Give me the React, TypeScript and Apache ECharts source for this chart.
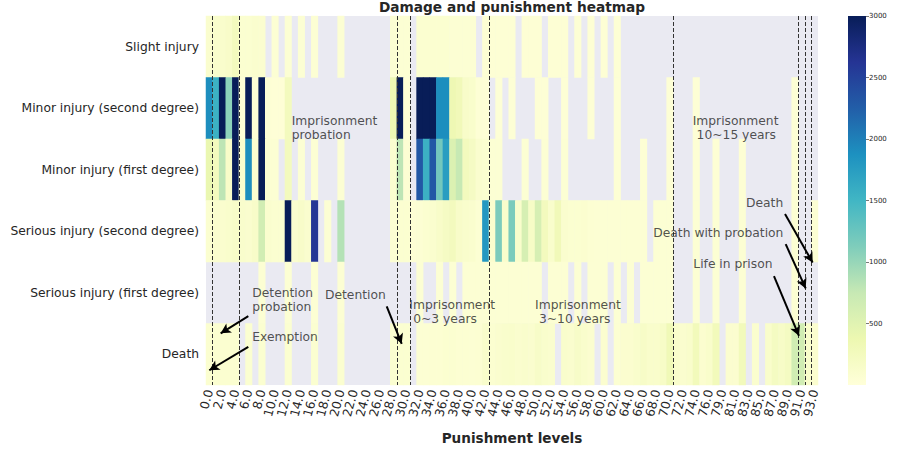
import React, { useEffect, useRef } from "react";
import * as echarts from "echarts";

const _ = null;

// Punishment levels (x categories)
const levels = [
  0, 1, 2, 3, 4, 5, 6, 7, 8, 9, 10, 11, 12, 13, 14, 15, 16, 17, 18, 19,
  20, 21, 22, 23, 24, 25, 26, 27, 28, 29, 30, 31, 32, 33, 34, 35, 36, 37, 38, 39,
  40, 41, 42, 43, 44, 45, 46, 47, 48, 49, 50, 51, 52, 53, 54, 55, 56, 57, 58, 59,
  60, 61, 62, 63, 64, 65, 66, 67, 68, 69, 70, 71, 72, 73, 74, 75, 76, 77, 79, 80,
  81, 82, 83, 84, 85, 86, 87, 88, 89, 90, 91, 92, 93,
];

// Damage levels (y categories, top to bottom)
const damageLevels = [
  "Slight injury",
  "Minor injury (second degree)",
  "Minor injury (first degree)",
  "Serious injury (second degree)",
  "Serious injury (first degree)",
  "Death",
];

const slightInjury = [
  100, 120, 120, 150, 250, 80, 80, 100, 90, _,
  60, _, 60, _, 60, _, 60, _, _, _,
  60, _, _, _, _, _, _, _, 60, 60,
  60, _, 80, 80, 80, 80, 80, 60, 60, 60,
  60, _, 50, 50, 50, 50, 50, _, 50, 50,
  50, _, 50, 50, 50, _, 50, _, 50, _,
  50, _, 50, _, _, _, _, _, _, _,
  _, _, _, _, _, _, _, _, _, _,
  _, _, _, _, _, _, _, _, _, _,
  _, _, _,
];

const minorSecond = [
  1900, 1550, 3000, 1050, 3000, 40, 3000, 40, 3000, 40,
  30, 30, 250, _, _, _, _, _, _, _,
  _, _, _, _, _, _, _, _, 350, 3000,
  50, _, 3000, 3000, 3000, 1900, 1900, 350, 300, 150,
  120, 40, 30, _, 40, _, 40, _, _, _,
  40, 40, _, _, 40, _, _, _, 40, _,
  _, _, 40, _, _, _, _, _, _, _,
  40, _, _, _, 40, _, _, _, _, _,
  _, _, _, _, _, _, _, _, _, 40,
  _, _, _,
];

const minorFirst = [
  400, 250, 800, 150, 3000, 100, 1900, 80, 3000, 60,
  60, _, 250, _, 60, _, 60, _, _, _,
  60, _, _, _, _, _, _, _, 80, 800,
  60, _, 2300, 1550, 2300, 1200, 1750, 550, 750, 250,
  200, 100, 80, 60, 60, _, _, _, 60, _,
  _, 60, _, _, 60, _, _, _, _, _,
  _, _, 50, _, _, _, 50, _, _, _,
  50, _, _, _, 50, _, _, 50, _, _,
  _, 50, _, _, _, _, _, _, _, 50,
  _, _, _,
];

const seriousSecond = [
  80, 100, 100, 120, 150, 120, 100, 150, 650, 100,
  80, 80, 3000, 100, 150, 100, 2600, _, 60, _,
  850, _, _, _, _, _, _, _, 60, 80,
  80, 50, 60, 80, 100, 150, 200, 250, 150, 120,
  100, 60, 1800, 100, 1150, 120, 1150, 120, 600, 180,
  600, 250, 120, 300, 100, 80, 80, 90, 70, 60,
  60, 60, 60, 60, 60, 60, 60, _, 60, 60,
  60, _, _, _, 60, _, _, 60, _, _,
  _, 60, _, _, _, _, _, _, _, 60,
  _, _, 60,
];

const seriousFirst = [
  _, _, _, _, _, _, _, _, 60, _,
  _, _, 60, _, _, _, 60, _, _, _,
  60, _, _, _, _, _, _, _, _, _,
  _, _, 60, _, _, 60, _, 60, _, 60,
  60, 60, 60, 60, 60, 60, 60, 60, 60, 60,
  60, _, 60, 60, 60, _, 60, _, 60, 60,
  60, _, 60, _, 60, _, 60, 60, 60, 60,
  60, _, _, _, 60, _, _, 60, _, _,
  _, 60, _, _, _, _, _, _, _, 60,
  _, _, _,
];

const death = [
  80, 80, 80, 80, 80, _, 80, _, 80, _,
  _, _, 80, _, _, _, 80, _, _, _,
  80, _, _, _, _, _, _, _, 80, 80,
  80, _, 60, 60, 70, 70, 80, 80, 70, 70,
  60, 70, 130, 80, 100, 120, 130, 100, 120, 100,
  160, 120, 100, _, 120, 100, 160, 120, 90, _,
  90, _, 70, 90, 90, 120, 170, 130, 130, 170,
  320, 130, 100, 130, 280, 90, 130, 280, _, 90,
  90, 280, _, 100, _, 130, 220, 170, 220, 650,
  650, 130, 90,
];

const rows = [slightInjury, minorSecond, minorFirst, seriousSecond, seriousFirst, death];

// Category boundaries (in column units) where the dashed separators sit
const thresholds = [1, 5, 29, 31, 43, 71, 90, 91, 92];

// Annotation texts, in (column, row) units
const annotations = [
  { text: "Imprisonment\nprobation", x: 13.02, y: 1.82 },
  { text: "Detention\nprobation", x: 7.04, y: 4.62 },
  { text: "Exemption", x: 7.04, y: 5.22 },
  { text: "Detention", x: 18.08, y: 4.54 },
  { text: "Imprisonment\n\u00a00~3 years", x: 30.89, y: 4.81 },
  { text: "Imprisonment\n\u00a03~10 years", x: 50.0, y: 4.81 },
  { text: "Imprisonment\n\u00a010~15 years", x: 73.96, y: 1.82 },
  { text: "Death", x: 82.06, y: 3.04 },
  { text: "Death with probation", x: 67.97, y: 3.53 },
  { text: "Life in prison", x: 74.05, y: 4.03 },
];

const arrows = [
  { from: [6.43, 4.88], to: [2.23, 5.16] },
  { from: [6.43, 5.38], to: [0.5, 5.76] },
  { from: [27.46, 4.72], to: [29.74, 5.33] },
  { from: [87.99, 3.22], to: [92.19, 4.01] },
  { from: [88.09, 3.71], to: [91.13, 4.43] },
  { from: [86.31, 4.23], to: [90.11, 5.2] },
];

const colorbarMin = 0;
const colorbarMax = 3000;
const colorbarTicks = [500, 1000, 1500, 2000, 2500, 3000];

const YLGNBU = ["#ffffd9", "#edf8b1", "#c7e9b4", "#7fcdbb", "#41b6c4", "#1d91c0", "#225ea8", "#253494", "#081d58"];
const FONT = "DejaVu Sans";
const TEXT = "#262626";

export default function App() {
  const ref = useRef<HTMLDivElement>(null);

  useEffect(() => {
    if (!ref.current) return;
    const chart = echarts.init(ref.current, null, { renderer: "svg" });

    const heatData: any[] = [];
    rows.forEach((row, yi) => {
      row.forEach((v, xi) => {
        if (v !== null) heatData.push([xi, yi, v]);
      });
    });

    const markLineData: any[] = [];
    thresholds.forEach((t) => {
      markLineData.push({
        xAxis: t,
        lineStyle: { type: [4, 2], color: "#333", width: 1 },
      });
    });
    arrows.forEach((a) => {
      markLineData.push([
        { coord: a.from, symbol: "none", lineStyle: { type: "solid", color: "#000", width: 2 } },
        { coord: a.to, symbol: "arrow", symbolSize: [8, 10] },
      ]);
    });

    const option: any = {
      animation: false,
      textStyle: { fontFamily: FONT },
      title: {
        text: "Damage and punishment heatmap",
        left: 512,
        top: 0,
        textAlign: "center",
        padding: 0,
        textStyle: { fontFamily: FONT, fontSize: 13.7, fontWeight: "bold", color: TEXT },
      },
      grid: [
        { left: 206, top: 16, width: 612, height: 369, show: true, backgroundColor: "#EAEAF2", borderWidth: 0 },
        { left: 848, top: 16, width: 18, height: 369, show: false },
      ],
      xAxis: [
        {
          type: "category",
          gridIndex: 0,
          data: levels.map((v) => v.toFixed(1)),
          axisLine: { show: false },
          axisTick: { show: false },
          splitLine: { show: false },
          axisLabel: {
            interval: 1,
            rotate: 75,
            margin: 5,
            fontSize: 12.3,
            color: TEXT,
            fontFamily: FONT,
          },
          name: "Punishment levels",
          nameLocation: "middle",
          nameGap: 46,
          nameTextStyle: { fontFamily: FONT, fontSize: 13.6, fontWeight: "bold", color: TEXT },
        },
        { type: "value", gridIndex: 0, min: 0, max: 93, show: false },
        { type: "category", gridIndex: 1, data: [""], show: false },
      ],
      yAxis: [
        {
          type: "category",
          gridIndex: 0,
          data: damageLevels,
          inverse: true,
          axisLine: { show: false },
          axisTick: { show: false },
          splitLine: { show: false },
          axisLabel: { margin: 7, fontSize: 12.3, color: TEXT, fontFamily: FONT },
        },
        { type: "value", gridIndex: 0, min: 0, max: 6, inverse: true, show: false },
        {
          type: "value",
          gridIndex: 1,
          min: colorbarMin,
          max: colorbarMax,
          interval: 500,
          position: "right",
          axisLine: { show: false },
          splitLine: { show: false },
          axisTick: { show: true, length: 3, customValues: colorbarTicks, lineStyle: { color: "#555", width: 0.8 } },
          axisLabel: {
            margin: 3,
            fontSize: 7,
            color: TEXT,
            fontFamily: FONT,
            customValues: colorbarTicks,
            formatter: (v: number) => String(v),
          },
        },
      ],
      visualMap: {
        type: "continuous",
        show: false,
        min: colorbarMin,
        max: colorbarMax,
        dimension: 2,
        seriesIndex: 0,
        inRange: { color: YLGNBU },
      },
      series: [
        {
          type: "heatmap",
          xAxisIndex: 0,
          yAxisIndex: 0,
          data: heatData,
          itemStyle: { borderWidth: 0 },
          emphasis: { disabled: true },
          z: 2,
        },
        {
          type: "scatter",
          xAxisIndex: 1,
          yAxisIndex: 1,
          symbolSize: 0,
          itemStyle: { color: "rgba(0,0,0,0)" },
          silent: true,
          z: 5,
          data: annotations.map((a) => ({ value: [a.x, a.y], label: { formatter: a.text } })),
          label: {
            show: true,
            position: "right",
            distance: 0,
            fontSize: 12.3,
            lineHeight: 14,
            color: TEXT,
            fontFamily: FONT,
            align: "left",
          },
          markLine: {
            silent: true,
            symbol: ["none", "none"],
            label: { show: false },
            data: markLineData,
            z: 4,
          },
        },
        {
          type: "bar",
          xAxisIndex: 2,
          yAxisIndex: 2,
          data: [colorbarMax],
          barWidth: "100%",
          silent: true,
          itemStyle: {
            color: new echarts.graphic.LinearGradient(
              0, 1, 0, 0,
              YLGNBU.map((c, i) => ({ offset: i / (YLGNBU.length - 1), color: c }))
            ),
          },
        },
      ],
    };

    chart.setOption(option);
    return () => chart.dispose();
  }, []);

  return (
    <div
      ref={ref}
      style={{ position: "fixed", left: 0, top: 0, width: 901, height: 452, background: "#fff" }}
    />
  );
}
